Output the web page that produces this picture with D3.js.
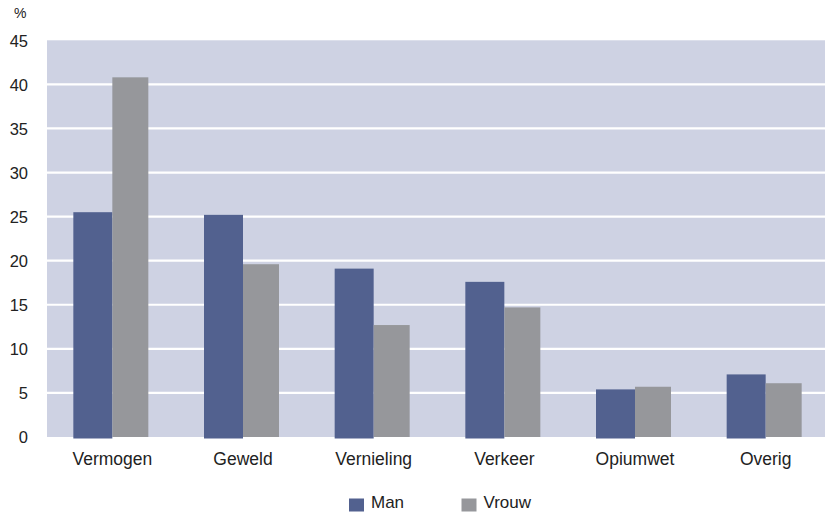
<!DOCTYPE html>
<html><head><meta charset="utf-8">
<script src="https://cdn.jsdelivr.net/npm/d3@7"></script>
<style>body{margin:0;background:#fff}svg{display:block}text{font-family:"Liberation Sans",Arial,sans-serif;fill:#222}</style>
</head><body><svg id="c" width="825" height="512"></svg>
<script>
const categories = ["Vermogen","Geweld","Vernieling","Verkeer","Opiumwet","Overig"];
const man   = [25.5, 25.2, 19.1, 17.6, 5.4, 7.1];
const vrouw = [40.8, 19.6, 12.7, 14.7, 5.7, 6.1];
const seriesNames = ["Man","Vrouw"];
const yTicks = [0,5,10,15,20,25,30,35,40,45];

(function(){
const svg = d3.select("#c");
const pL = 47, pR = 825, pT = 40.3, pB = 437;
const x = d3.scaleBand().domain(categories).range([pL, 831]).paddingInner(0).paddingOuter(0);
const y = d3.scaleLinear().domain([0,45]).range([pB, pT]);

svg.append("rect").attr("x",pL).attr("y",pT).attr("width",pR-pL).attr("height",pB-pT).attr("fill","#ced2e3");
svg.append("g").selectAll("line").data(yTicks.filter(d=>d>0 && d<45)).join("line")
  .attr("x1",pL).attr("x2",pR).attr("y1",d=>y(d)).attr("y2",d=>y(d))
  .attr("stroke","#fff").attr("stroke-width",2.2);

const yAxis = svg.append("g").attr("transform",`translate(${pL},0)`)
  .call(d3.axisLeft(y).tickValues(yTicks).tickSize(0).tickPadding(19));
yAxis.select(".domain").remove();
yAxis.selectAll("text").style("font-size","16.5px").attr("fill","#222").attr("dy","0.35em");

svg.append("text").attr("x",14).attr("y",18).style("font-size","14px").text("%");

const cx = d => x(d) + x.bandwidth()/2;
svg.append("g").selectAll("rect").data(categories).join("rect")
  .attr("x",(d)=>cx(d)-39).attr("width",39)
  .attr("y",(d,i)=>y(man[i])).attr("height",(d,i)=>y(0)-y(man[i])+1.5).attr("fill","#52618f");
svg.append("g").selectAll("rect").data(categories).join("rect")
  .attr("x",(d)=>cx(d)).attr("width",36)
  .attr("y",(d,i)=>y(vrouw[i])).attr("height",(d,i)=>y(0)-y(vrouw[i])).attr("fill","#96979b");

const xAxis = svg.append("g").attr("transform",`translate(0,${pB})`)
  .call(d3.axisBottom(x).tickSize(0).tickPadding(16));
xAxis.select(".domain").remove();
xAxis.selectAll("text").style("font-size","17.5px").attr("fill","#222");

const colors = ["#52618f","#96979b"];
const lx = [349, 461.5];
const lg = svg.append("g").selectAll("g").data(seriesNames).join("g")
  .attr("transform",(d,i)=>`translate(${lx[i]},0)`);
lg.append("rect").attr("x",0).attr("y",498.5).attr("width",15).attr("height",13).attr("fill",(d,i)=>colors[i]);
lg.append("text").attr("x",22).attr("y",508).style("font-size","17px").text(d=>d);
})();
</script></body></html>
